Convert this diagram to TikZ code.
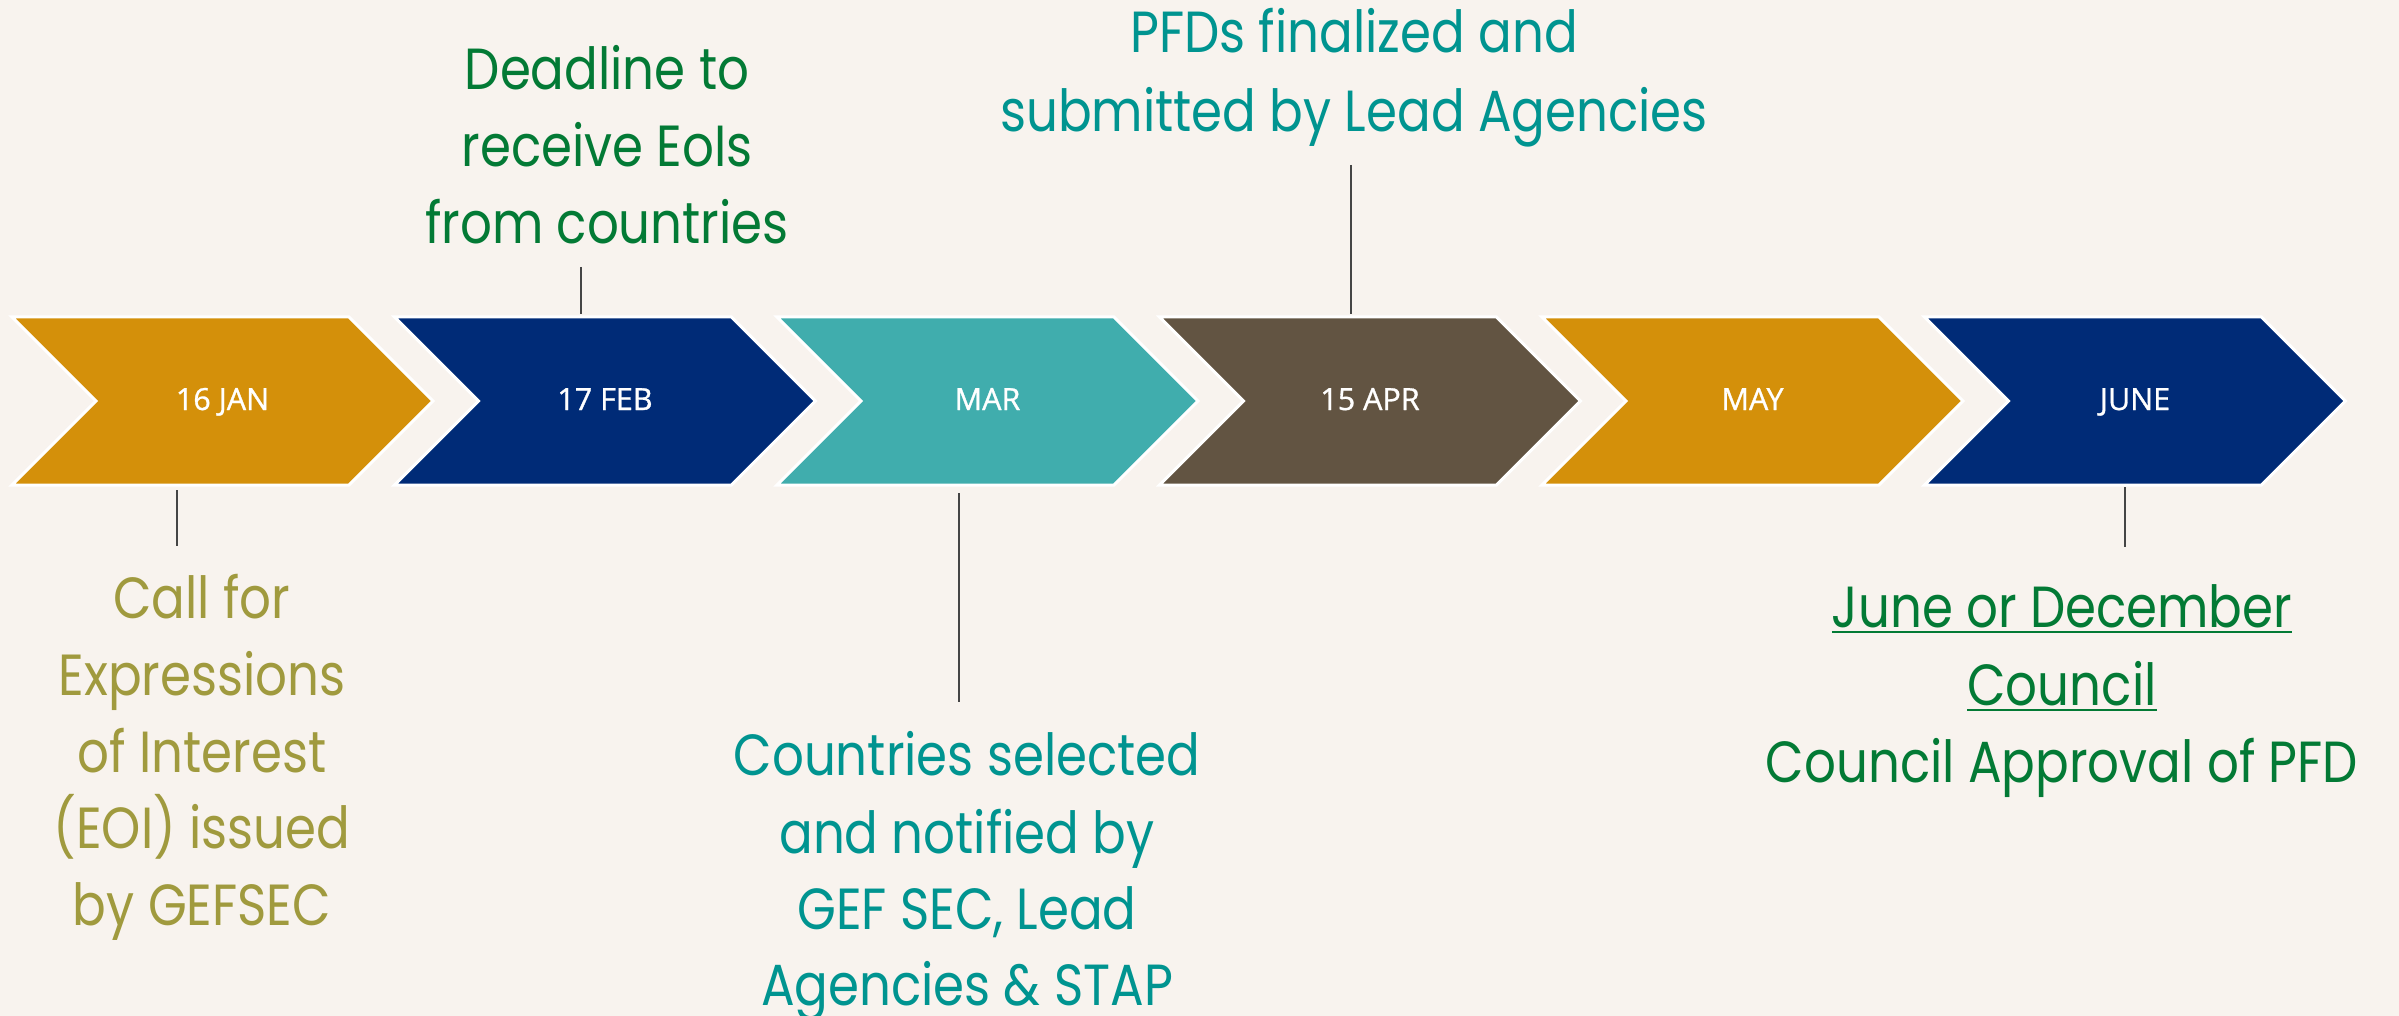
\documentclass[tikz,border=0pt]{standalone}
\usepackage{fontspec}
\newfontfamily\futfont[FakeStretch=0.86]{Poppins}
\newfontfamily\chevfont[FakeBold=1]{Open Sans}
\definecolor{bgc}{HTML}{F8F3EE}
\definecolor{goldc}{HTML}{D4900A}
\definecolor{navyc}{HTML}{002B77}
\definecolor{tealc}{HTML}{40ADAD}
\definecolor{brownc}{HTML}{625442}
\definecolor{olivetxt}{HTML}{A09A3E}
\definecolor{greentxt}{HTML}{037A35}
\definecolor{tealtxt}{HTML}{009490}
\definecolor{linec}{HTML}{454545}
\newcommand\ulx[1]{\setbox0\hbox{#1}\rlap{\rule[-6.3pt]{\wd0}{2.7pt}}\box0}
\newcommand\chevron[4]{%
  \fill[#3, draw=white, line width=3pt, line join=miter] (#2,317) -- ++(337,0) -- ++(84,84) -- ++(-84,84) -- ++(-337,0) -- ++(84,-84) -- cycle;
  \node[chevlabel] (#1) at (#2+210.5,410) {#4};}
\begin{document}
\begin{tikzpicture}[x=1pt,y=-1pt,
  chevlabel/.style={anchor=base, inner sep=0pt, text=white, font=\chevfont\fontsize{30.5}{36}\selectfont},
  futt/.style={anchor=base, inner sep=0pt, font=\futfont\fontsize{58}{77}\selectfont},
  conn/.style={draw=linec, line width=2pt}]
\fill[bgc] (0,0) rectangle (2399,1016);
\useasboundingbox (0,0) rectangle (2399,1016);

\chevron{ch1}{12}{goldc}{16 JAN}
\chevron{ch2}{394.5}{navyc}{17 FEB}
\chevron{ch3}{777}{tealc}{MAR}
\chevron{ch4}{1159.5}{brownc}{15 APR}
\chevron{ch5}{1542}{goldc}{MAY}
\chevron{ch6}{1924.5}{navyc}{JUNE}

% text 1
\node[futt, text=olivetxt] (t1a) at (202,618) {Call for};
\node[futt, text=olivetxt] (t1b) at (202,695) {Expressions};
\node[futt, text=olivetxt] (t1c) at (202,772) {of Interest};
\node[futt, text=olivetxt] (t1d) at (202,848) {(EOI) issued};
\node[futt, text=olivetxt] (t1e) at (202,925) {by GEFSEC};

% text 2
\node[futt, text=greentxt] (t2a) at (607,90) {Deadline to};
\node[futt, text=greentxt] (t2b) at (607,167) {receive EoIs};
\node[futt, text=greentxt] (t2c) at (607,244) {from countries};

% text 3
\node[futt, text=tealtxt] (t3a) at (1354,53) {PFDs finalized and};
\node[futt, text=tealtxt] (t3b) at (1354,132) {submitted by Lead Agencies};

% text 4
\node[futt, text=tealtxt] (t4a) at (967,775) {Countries selected};
\node[futt, text=tealtxt] (t4b) at (967,853) {and notified by};
\node[futt, text=tealtxt] (t4c) at (967,929) {GEF SEC, Lead};
\node[futt, text=tealtxt] (t4d) at (967,1005) {Agencies \& STAP};

% text 5
\node[futt, text=greentxt] (t5a) at (2062,627) {\ulx{June or December}};
\node[futt, text=greentxt] (t5b) at (2062,705) {\ulx{Council}};
\node[futt, text=greentxt] (t5c) at (2062,782) {Council Approval of PFD};

% connectors
\coordinate (l1a) at (177,490); \coordinate (l1b) at (177,546);
\coordinate (l2a) at (581,267); \coordinate (l2b) at (581,314);
\coordinate (l3a) at (1351,165); \coordinate (l3b) at (1351,314);
\coordinate (l4a) at (959,493); \coordinate (l4b) at (959,702);
\coordinate (l6a) at (2125,487); \coordinate (l6b) at (2125,547);
\draw[conn] (l1a) -- (l1b);
\draw[conn] (l2a) -- (l2b);
\draw[conn] (l3a) -- (l3b);
\draw[conn] (l4a) -- (l4b);
\draw[conn] (l6a) -- (l6b);
\end{tikzpicture}
\end{document}
